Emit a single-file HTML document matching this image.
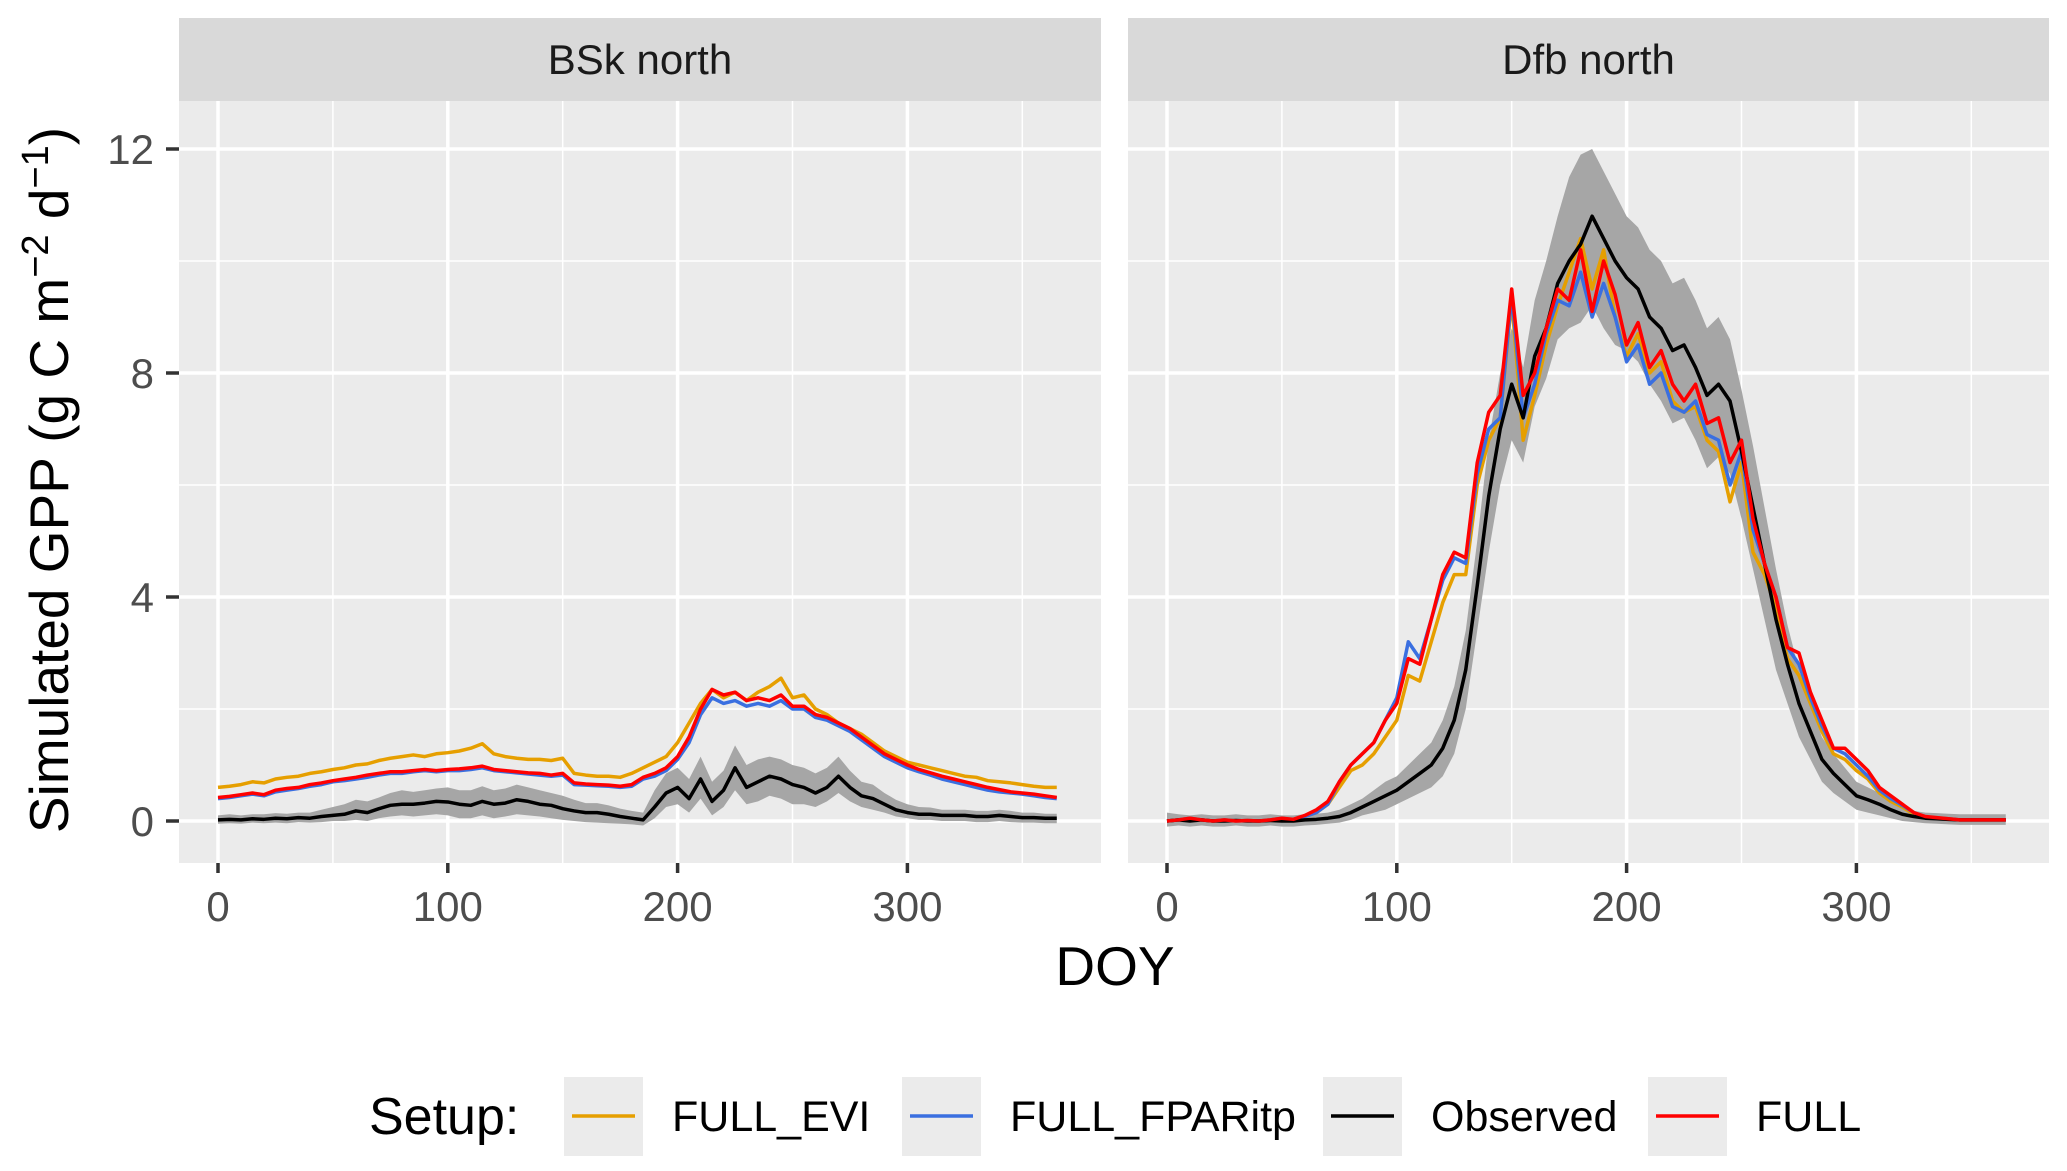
<!DOCTYPE html>
<html><head><meta charset="utf-8"><style>
body{margin:0;background:#fff;}
svg{display:block;font-family:"Liberation Sans",sans-serif;}
</style></head><body>
<svg id="chart" width="2067" height="1171" viewBox="0 0 2067 1171">
<text x="68" y="480" font-size="55" text-anchor="middle" transform="rotate(-90 68 480)" fill="#000">Simulated GPP (g C m<tspan dy="-20" font-size="38">−2</tspan><tspan dy="20"> d</tspan><tspan dy="-20" font-size="38">−1</tspan><tspan dy="20">)</tspan></text>
<text x="1115" y="985" font-size="55" text-anchor="middle" fill="#000">DOY</text>
<g>
<text x="369" y="1134" font-size="52" fill="#000">Setup:</text>
</g>
</svg>
<script>
const days=[0,5,10,15,20,25,30,35,40,45,50,55,60,65,70,75,80,85,90,95,100,105,110,115,120,125,130,135,140,145,150,155,160,165,170,175,180,185,190,195,200,205,210,215,220,225,230,235,240,245,250,255,260,265,270,275,280,285,290,295,300,305,310,315,320,325,330,335,340,345,350,355,360,365];
// BSk north
const bskEvi=[0.6,0.62,0.65,0.7,0.68,0.75,0.78,0.8,0.85,0.88,0.92,0.95,1.0,1.02,1.08,1.12,1.15,1.18,1.15,1.2,1.22,1.25,1.3,1.38,1.2,1.15,1.12,1.1,1.1,1.08,1.12,0.85,0.82,0.8,0.8,0.78,0.85,0.95,1.05,1.15,1.4,1.75,2.1,2.35,2.2,2.3,2.15,2.3,2.4,2.55,2.2,2.25,2.0,1.9,1.75,1.65,1.55,1.4,1.25,1.15,1.05,1.0,0.95,0.9,0.85,0.8,0.78,0.72,0.7,0.68,0.65,0.62,0.6,0.6];
const bskFpar=[0.4,0.42,0.45,0.48,0.45,0.52,0.55,0.58,0.62,0.65,0.7,0.72,0.75,0.78,0.82,0.85,0.85,0.88,0.9,0.88,0.9,0.9,0.92,0.95,0.9,0.88,0.86,0.84,0.82,0.8,0.82,0.65,0.64,0.63,0.62,0.6,0.62,0.75,0.8,0.9,1.1,1.4,1.9,2.2,2.1,2.15,2.05,2.1,2.05,2.15,2.0,2.0,1.85,1.8,1.7,1.6,1.45,1.3,1.15,1.05,0.95,0.88,0.82,0.75,0.7,0.65,0.6,0.55,0.52,0.5,0.48,0.45,0.42,0.4];
const bskFull=[0.42,0.44,0.47,0.5,0.47,0.55,0.58,0.6,0.65,0.68,0.72,0.75,0.78,0.82,0.85,0.88,0.88,0.9,0.92,0.9,0.92,0.93,0.95,0.98,0.92,0.9,0.88,0.86,0.85,0.82,0.85,0.68,0.66,0.65,0.64,0.62,0.65,0.78,0.85,0.95,1.15,1.5,2.0,2.35,2.25,2.3,2.15,2.2,2.15,2.25,2.05,2.05,1.9,1.85,1.75,1.65,1.5,1.35,1.2,1.1,1.0,0.92,0.86,0.8,0.75,0.7,0.65,0.6,0.56,0.52,0.5,0.48,0.45,0.42];
const bskObs=[0.02,0.03,0.02,0.04,0.03,0.05,0.04,0.06,0.05,0.08,0.1,0.12,0.18,0.15,0.22,0.28,0.3,0.3,0.32,0.35,0.34,0.3,0.28,0.35,0.3,0.32,0.38,0.35,0.3,0.28,0.22,0.18,0.15,0.15,0.12,0.08,0.05,0.02,0.25,0.5,0.6,0.4,0.75,0.35,0.55,0.95,0.6,0.7,0.8,0.75,0.65,0.6,0.5,0.6,0.8,0.6,0.45,0.4,0.3,0.2,0.15,0.12,0.12,0.1,0.1,0.1,0.08,0.08,0.1,0.08,0.06,0.06,0.05,0.05];
const bskLo=[-0.05,-0.04,-0.05,-0.03,-0.04,-0.03,-0.04,-0.02,-0.03,-0.02,0.0,0.0,0.02,0.0,0.05,0.08,0.1,0.08,0.1,0.12,0.1,0.05,0.05,0.1,0.05,0.08,0.12,0.1,0.08,0.05,0.02,0.0,-0.02,-0.03,-0.04,-0.05,-0.06,-0.08,0.05,0.25,0.3,0.15,0.4,0.1,0.25,0.55,0.3,0.35,0.45,0.4,0.3,0.3,0.25,0.35,0.5,0.35,0.25,0.2,0.15,0.08,0.05,0.02,0.02,0.0,0.0,0.0,-0.02,-0.02,0.0,-0.02,-0.03,-0.03,-0.04,-0.04];
const bskHi=[0.1,0.12,0.1,0.12,0.12,0.14,0.13,0.15,0.15,0.2,0.25,0.3,0.38,0.35,0.42,0.5,0.55,0.52,0.55,0.58,0.6,0.55,0.55,0.62,0.55,0.58,0.65,0.6,0.55,0.5,0.45,0.38,0.32,0.32,0.28,0.22,0.18,0.15,0.55,0.85,0.95,0.75,1.15,0.7,0.9,1.35,1.0,1.1,1.15,1.1,1.0,0.95,0.85,0.95,1.15,0.9,0.7,0.65,0.5,0.38,0.3,0.25,0.24,0.2,0.2,0.2,0.18,0.18,0.2,0.18,0.15,0.15,0.13,0.13];
// Dfb north
const dfbEvi=[0,0.02,0.05,0.02,0,0.02,0,0.01,0,0.02,0.05,0.02,0.08,0.15,0.3,0.6,0.9,1.0,1.2,1.5,1.8,2.6,2.5,3.2,3.9,4.4,4.4,6.0,6.8,7.2,9.3,6.8,7.6,8.5,9.2,9.8,10.4,9.5,10.2,9.0,8.3,8.7,8.0,8.2,7.5,7.3,7.4,6.8,6.6,5.7,6.4,4.8,4.4,3.8,2.9,2.6,2.1,1.6,1.2,1.1,0.9,0.75,0.5,0.35,0.25,0.12,0.06,0.05,0.04,0.02,0.02,0.02,0.02,0.02];
const dfbFpar=[0,0.02,0.05,0.02,0,0.02,0,0.01,0,0.02,0.05,0.02,0.08,0.15,0.3,0.7,1.0,1.2,1.4,1.8,2.2,3.2,2.9,3.6,4.3,4.7,4.6,6.2,7.0,7.2,9.4,7.2,7.8,8.7,9.3,9.2,9.8,9.0,9.6,9.0,8.2,8.5,7.8,8.0,7.4,7.3,7.5,6.9,6.8,6.0,6.6,5.2,4.6,4.0,3.1,2.8,2.2,1.7,1.3,1.2,1.0,0.8,0.55,0.4,0.28,0.15,0.07,0.05,0.04,0.02,0.02,0.02,0.02,0.02];
const dfbFull=[0,0.02,0.05,0.02,0,0.02,0,0.01,0,0.02,0.05,0.03,0.1,0.2,0.35,0.7,1.0,1.2,1.4,1.8,2.1,2.9,2.8,3.6,4.4,4.8,4.7,6.4,7.3,7.6,9.5,7.6,8.0,8.8,9.5,9.3,10.2,9.1,10.0,9.4,8.5,8.9,8.1,8.4,7.8,7.5,7.8,7.1,7.2,6.4,6.8,5.4,4.6,4.0,3.1,3.0,2.3,1.8,1.3,1.3,1.1,0.9,0.6,0.45,0.3,0.15,0.08,0.06,0.04,0.02,0.02,0.02,0.02,0.02];
const dfbObs=[0,0.02,0,0.02,0,0,0.01,0,0,0.01,0,0,0.02,0.03,0.05,0.08,0.15,0.25,0.35,0.45,0.55,0.7,0.85,1.0,1.3,1.8,2.7,4.2,5.8,7.0,7.8,7.2,8.3,8.8,9.6,10.0,10.3,10.8,10.4,10.0,9.7,9.5,9.0,8.8,8.4,8.5,8.1,7.6,7.8,7.5,6.6,5.6,4.6,3.6,2.8,2.1,1.6,1.1,0.85,0.65,0.45,0.38,0.3,0.2,0.12,0.08,0.05,0.04,0.03,0.02,0.02,0.02,0.02,0.02];
const dfbLo=[-0.1,-0.08,-0.1,-0.08,-0.1,-0.1,-0.08,-0.1,-0.1,-0.08,-0.1,-0.1,-0.08,-0.07,-0.05,-0.03,0.02,0.1,0.15,0.2,0.3,0.4,0.5,0.6,0.8,1.2,2.0,3.4,4.8,6.0,6.8,6.4,7.4,7.9,8.6,8.8,8.9,9.2,8.8,8.5,8.4,8.2,7.8,7.5,7.1,7.2,6.8,6.3,6.5,6.2,5.4,4.5,3.6,2.7,2.1,1.5,1.1,0.7,0.5,0.35,0.2,0.15,0.1,0.05,0.0,-0.02,-0.04,-0.05,-0.06,-0.07,-0.07,-0.07,-0.07,-0.07];
const dfbHi=[0.15,0.12,0.1,0.12,0.1,0.1,0.12,0.1,0.1,0.12,0.1,0.1,0.12,0.13,0.15,0.2,0.3,0.4,0.55,0.7,0.8,1.0,1.2,1.4,1.8,2.4,3.4,5.0,6.8,8.0,8.8,8.1,9.3,10.0,10.8,11.5,11.9,12.0,11.6,11.2,10.8,10.6,10.2,10.0,9.6,9.7,9.3,8.8,9.0,8.6,7.7,6.7,5.6,4.5,3.5,2.7,2.1,1.5,1.2,0.95,0.7,0.6,0.5,0.35,0.25,0.18,0.15,0.14,0.13,0.12,0.12,0.12,0.12,0.12];
const yTicks=[0,4,8,12];
const xTicks=[0,100,200,300];
const NS='http://www.w3.org/2000/svg';
const svg=document.getElementById('chart');
function mk(tag,attrs,parent){const e=document.createElementNS(NS,tag);for(const k in attrs)e.setAttribute(k,attrs[k]);(parent||svg).appendChild(e);return e;}
const PT=18,STRIPB=101,PB=863,Y0=821,Y12=149;
function yS(v){return Y0-(Y0-Y12)*v/12;}
function panel(name,left,right,x0,title,evi,fpar,full,obs,lo,hi){
  function xS(d){return x0+d*2.298;}
  const g=mk('g',{});
  
  
  const bg=mk('rect',{x:left,y:STRIPB,width:right-left,height:PB-STRIPB,fill:'#ebebeb'},g);
  
  
  const st=mk('rect',{x:left,y:PT,width:right-left,height:STRIPB-PT,fill:'#d9d9d9'},g);
  
  
  const stt=mk('text',{x:(left+right)/2,y:74,'font-size':42,'text-anchor':'middle',fill:'#1a1a1a'},g);
  stt.textContent=title;
  
  
  [2,6,10].forEach(v=>{const l=mk('line',{x1:left,x2:right,y1:yS(v),y2:yS(v),stroke:'#fff','stroke-width':1.5},g);
    });
  [50,150,250,350].forEach(v=>{const l=mk('line',{x1:xS(v),x2:xS(v),y1:STRIPB,y2:PB,stroke:'#fff','stroke-width':1.5},g);
    });
  yTicks.forEach(v=>{const l=mk('line',{x1:left,x2:right,y1:yS(v),y2:yS(v),stroke:'#fff','stroke-width':3.5},g);
    });
  xTicks.forEach(v=>{const l=mk('line',{x1:xS(v),x2:xS(v),y1:STRIPB,y2:PB,stroke:'#fff','stroke-width':3.5},g);
    
    const t=mk('line',{x1:xS(v),x2:xS(v),y1:PB,y2:PB+10,stroke:'#333','stroke-width':3.5},g);
    
    const tx=mk('text',{x:xS(v),y:PB+58,'font-size':42,'text-anchor':'middle',fill:'#4d4d4d'},g);
    tx.textContent=v;
    });
  let d='M';days.forEach((dd,i)=>{d+=xS(dd)+','+yS(hi[i])+' L';});
  for(let i=days.length-1;i>=0;i--){d+=xS(days[i])+','+yS(lo[i])+(i?' L':' Z');}
  const rb=mk('path',{d:d,fill:'#a6a6a6'},g);
  
  function line(vals,col,n){const p=days.map((dd,i)=>xS(dd)+','+yS(vals[i])).join(' ');
    const e=mk('polyline',{points:p,fill:'none',stroke:col,'stroke-width':3.5,'stroke-linejoin':'round'},g);
    }
  line(evi,'#e69f00','full-evi');line(fpar,'#3a6fe0','full-fparitp');line(obs,'#000','observed');line(full,'#ff0000','full');
}
panel('bsk',179,1101,218,'BSk north',bskEvi,bskFpar,bskFull,bskObs,bskLo,bskHi);
panel('dfb',1128,2049,1167,'Dfb north',dfbEvi,dfbFpar,dfbFull,dfbObs,dfbLo,dfbHi);
yTicks.forEach(v=>{
  const t=mk('line',{x1:166,x2:179,y1:yS(v),y2:yS(v),stroke:'#333','stroke-width':3.5});
  
  const tx=mk('text',{x:154,y:yS(v)+15,'font-size':42,'text-anchor':'end',fill:'#4d4d4d'});
  tx.textContent=v;
  
});
const legKeys=[564,902,1323,1648];
const legLabels=['FULL_EVI','FULL_FPARitp','Observed','FULL'];
const legColors=['#e69f00','#3a6fe0','#000','#ff0000'];
legKeys.forEach((x,i)=>{
  const r=mk('rect',{x:x,y:1077,width:79,height:79,fill:'#ebebeb'});
  
  const l=mk('line',{x1:x+8,x2:x+71,y1:1116,y2:1116,stroke:legColors[i],'stroke-width':3.5});
  
  const t=mk('text',{x:x+108,y:1131,'font-size':43,fill:'#000'});
  t.textContent=legLabels[i];
  
});
</script>
</body></html>
